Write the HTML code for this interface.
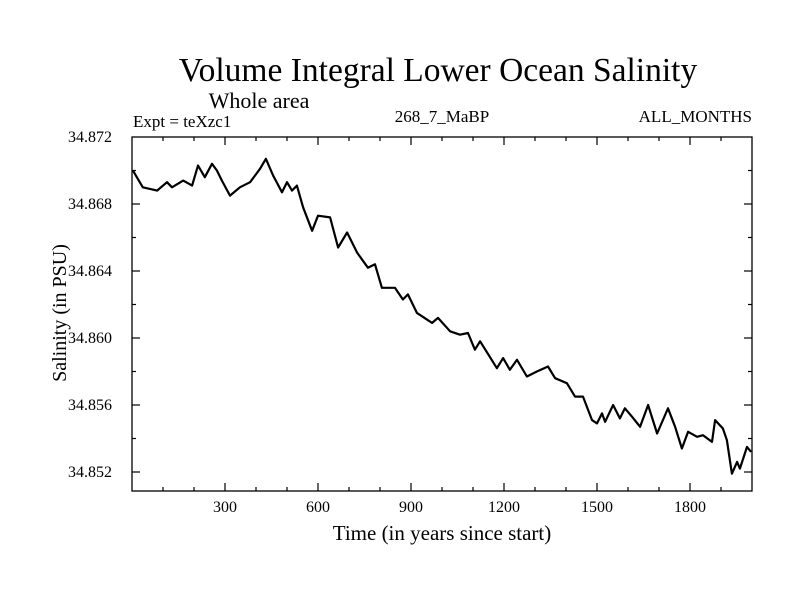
<!DOCTYPE html>
<html><head><meta charset="utf-8"><style>
body{margin:0;background:#fff}
svg text{font-family:"Liberation Serif",serif;fill:#000}
</style></head><body>
<svg width="800" height="600" viewBox="0 0 800 600">
<text x="438" y="81" font-size="33.5" text-anchor="middle">Volume Integral Lower Ocean Salinity</text>
<text x="259" y="108" font-size="22" text-anchor="middle">Whole area</text>
<text x="133" y="127" font-size="17">Expt = teXzc1</text>
<text x="442" y="122" font-size="17" text-anchor="middle">268_7_MaBP</text>
<text x="752" y="122" font-size="17" text-anchor="end">ALL_MONTHS</text>
<text x="442" y="540" font-size="21" text-anchor="middle">Time (in years since start)</text>
<text transform="translate(66,313) rotate(-90)" font-size="20" text-anchor="middle">Salinity (in PSU)</text>
<g id="axes"></g>
<path id="line" fill="none" stroke="#000" stroke-width="2.2" stroke-linejoin="round"/>
<rect x="132" y="137" width="620" height="354" fill="none" stroke="#000" stroke-width="1.3"/>
</svg>
<script>
const years=[3,35,81,113,129,165,194,213,235,258,274,290,316,348,381,413,432,455,484,500,516,532,552,581,600,639,665,694,726,761,784,806,848,874,890,919,968,987,1026,1058,1084,1106,1123,1177,1197,1219,1242,1274,1306,1342,1365,1403,1429,1455,1484,1500,1516,1526,1552,1574,1590,1613,1639,1665,1694,1729,1752,1774,1794,1823,1842,1871,1881,1906,1919,1935,1952,1961,1984,1997];
const salinity=[34.8700,34.8690,34.8688,34.8693,34.8690,34.8694,34.8691,34.8703,34.8696,34.8704,34.8700,34.8694,34.8685,34.8690,34.8693,34.8701,34.8707,34.8697,34.8687,34.8693,34.8688,34.8691,34.8678,34.8664,34.8673,34.8672,34.8654,34.8663,34.8651,34.8642,34.8644,34.8630,34.8630,34.8623,34.8626,34.8615,34.8609,34.8612,34.8604,34.8602,34.8603,34.8593,34.8598,34.8582,34.8588,34.8581,34.8587,34.8577,34.8580,34.8583,34.8576,34.8573,34.8565,34.8565,34.8551,34.8549,34.8555,34.8550,34.8560,34.8552,34.8558,34.8553,34.8547,34.8560,34.8543,34.8558,34.8547,34.8534,34.8544,34.8541,34.8542,34.8538,34.8551,34.8546,34.8539,34.8519,34.8526,34.8522,34.8535,34.8532];
const xTickLabels=[300,600,900,1200,1500,1800];
const yTickLabels=["34.852","34.856","34.860","34.864","34.868","34.872"];
const X0=132,X1=752,Y0=137,Y1=491,XMIN=0,XMAX=2000,YMAX=34.872,PXPER=16750;
const xs=v=>X0+(v-XMIN)/(XMAX-XMIN)*(X1-X0);
const ys=v=>Y0+(YMAX-v)*PXPER;
const NS="http://www.w3.org/2000/svg";
const g=document.getElementById('axes');
function ln(x1,y1,x2,y2,name){const l=document.createElementNS(NS,'line');l.setAttribute('x1',x1);l.setAttribute('y1',y1);l.setAttribute('x2',x2);l.setAttribute('y2',y2);l.setAttribute('stroke','#000');l.setAttribute('stroke-width','1.2');


g.appendChild(l);}
for(let yr=100;yr<XMAX;yr+=100){const x=xs(yr),len=yr%300===0?8:4;ln(x,Y1,x,Y1-len,'x-tick');ln(x,Y0,x,Y0+len,'x-tick-top');}
for(let i=0;i<=10;i++){const v=34.852-0.002+i*0.002;const y=ys(v);if(y<Y0-0.5||y>Y1+0.5)continue;const len=i%2===1?8:4;ln(X0,y,X0+len,y,'y-tick');ln(X1,y,X1-len,y,'y-tick-right');}
xTickLabels.forEach(v=>{const t=document.createElementNS(NS,'text');t.setAttribute('x',xs(v));t.setAttribute('y',512);t.setAttribute('font-size','16');t.setAttribute('text-anchor','middle');t.textContent=v;


g.appendChild(t);});
yTickLabels.forEach(s=>{const t=document.createElementNS(NS,'text');t.setAttribute('x',112);t.setAttribute('y',ys(parseFloat(s))+5);t.setAttribute('font-size','16');t.setAttribute('text-anchor','end');t.textContent=s;


g.appendChild(t);});
document.getElementById('line').setAttribute('d',years.map((yr,i)=>(i?'L':'M')+xs(yr).toFixed(1)+','+ys(salinity[i]).toFixed(1)).join(''));
</script>
</body></html>
